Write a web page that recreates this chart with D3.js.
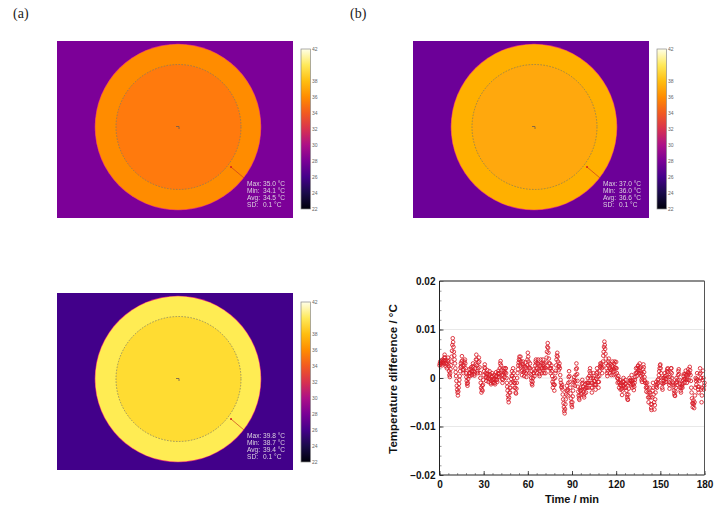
<!DOCTYPE html>
<html><head><meta charset="utf-8">
<script src="https://cdn.jsdelivr.net/npm/d3@7"></script>
<style>html,body{margin:0;padding:0;background:#fff}svg{display:block}</style>
</head><body><svg id="c" width="718" height="510"></svg>
<script>
// Temperature difference, in 0.001 °C, one reading every 0.25 min (rows of 5 min)
const diffMilli = [
2.6,3,3.4,2.8,3.2,3.6,3,2.6,3.4,3.8,3.2,3,3.6,4.2,4.8,4.2,3.6,3,2.4,3.2,
2,2.8,3.6,4.2,3.4,2.4,1.4,0.6,0.2,1,1.8,2.6,3.4,4.4,5.6,6.8,8.2,7.4,6.4,5.4,
4.6,3.8,3,2,1.2,0.4,-0.6,-1.6,-2.4,-3,-3.6,-2.8,-2,-1.2,-0.4,0.4,1.4,2.2,3,2.4,
3.4,4.5,3.6,2.6,1.6,1,1.8,2.6,3.4,3.8,3,2,1,0.2,-0.6,-1.2,-1.6,-1,-0.2,0.4,
1,1.8,1,0.4,1,1.8,2.2,1.4,0.6,1.4,2.4,3,2.2,1.4,0.8,0.5,1.2,2,2.8,3.8,
4.8,3.8,2.6,1.4,1,2,3.2,4.2,3.4,2.2,1,0,-1,-2,-3,-2.4,-1.6,-2.6,-1.4,-0.4,
0.6,1.4,2.2,2.8,2,1,0.2,-0.6,0,0.8,1.6,0.8,0,-0.8,-0.2,0.6,1.4,0.8,-0.2,-1,
-1.3,-0.6,0.2,1,0.4,-0.4,-1,-0.2,0.6,-0.2,-1,-1.3,-0.4,0.4,1.2,0.4,-0.4,-0.8,0.2,1,
1.5,0.8,0.2,1,2,3,3.5,2.6,1.6,0.6,-0.2,-1,-0.4,0.6,1.4,2,1,0.2,1.2,2,
2,1,0,-1,-1.8,-2.6,-3.6,-4.4,-5,-4,-3,-2,-3,-2,-1,-0.2,0.5,1.4,0.4,-0.8,
2,1,0,-1,-2,-1,-2,-3,-3.2,-2.2,-1,0,1,1.8,2.6,3.2,3.8,4.4,3.6,2.6,
4.4,3.4,2.4,1.4,0.6,1.6,2.8,3.4,2.4,1.2,0.4,1.4,2.4,3.2,2.2,1,0.2,1.4,2.6,3.8,
5.2,4.4,3.4,2.2,1,2,3,2,0.8,0,-0.6,-1.2,-1.5,-0.8,0,1,1.8,1,0.4,1.4,
2.6,3.4,3.8,3,2,1,2,3,3.8,2.8,1.8,0.8,0.4,1.4,2.6,3.8,3,2,1,2,
3,3.8,2.8,2,1,2,3,2.2,1,2,3.2,4.2,5.4,6.4,7.2,6.2,5.2,4,3,2,
3,2,1,2,2.6,1.4,0.4,-0.8,-2,-1.2,-0.2,-1.4,-2.6,-1.4,0,1,1.5,2.6,3.8,4.6,
5.2,4.4,3.4,2.4,1.6,2.4,3,2,0.6,-0.4,-1,-1.8,-2,-1.4,-2.4,-3.4,-4.4,-5.2,-6,-6.8,
-7.3,-6.4,-5.4,-4.4,-3.4,-2.6,-1.6,-2.6,-3.6,-2.4,-1,0.2,1.4,0.4,-0.8,-2,-3.2,-4.2,-5,-5.6,
-6,-5,-3.8,-2.6,-1.4,-0.4,0.2,-0.8,-1.6,-0.6,0.6,1.8,3,2,0.8,-0.6,-1.8,-2.8,-3.6,-4.2,
-4.5,-3.6,-2.6,-2,-2.6,-3.4,-2.4,-1.2,-0.4,-1,-1.8,-2.8,-3.6,-4,-3.2,-2.2,-1.2,-2,-3,-2,
-1,-2,-1,0,-1,-2,-1,0.4,1.4,2,1,0,-1,-2,-3,-2,-1,0,1,0.4,
-0.6,-1.4,-0.6,-1.4,-2.4,-1.4,-0.2,1,2,1.2,0.2,-0.8,-2,-0.8,0.4,1.4,2.4,3,2.2,2.6,
3,2,1,2.2,3.4,4.6,5.4,6.4,7.5,6.8,6,5,4,3,2,1,0.4,1.4,2.6,3.4,
4,3,2,1,1.8,2.8,1.6,0.6,1.6,2.6,3.4,2.4,1.4,0.6,1.8,3,3.4,2.2,0.8,2,
3.3,2,1,0,-1,-0.2,0.4,-0.8,-2,-1,-0.4,-1.4,-2.4,-1.6,-1,-2.2,-3.5,-2.6,-1.6,-0.8,
0,-0.8,-1.6,-2,-1.2,-0.4,-1.2,-2,-2.6,-3.4,-4,-4.4,-4.5,-3.4,-2.2,-1,0,-0.6,-1.2,-0.4,
-1.5,-0.6,0.6,-0.6,-2,-1.2,-0.4,-1.4,-2.5,-1.8,-1,-0.4,0.2,1,2,1,0.4,1.2,2,2.4,
2.6,1.6,1,2,3,2.2,1.4,1,0.4,-0.4,-0.8,0,0.8,1.8,2.8,2.2,1.2,0.2,-0.6,-1,
-1,-2,-2.8,-1.8,-1,-2,-3,-4,-5,-4,-3,-2,-3,-4,-5.4,-6.2,-6.6,-5.4,-4,-2.6,
-1,-2,-3.4,-5,-6.5,-5.6,-4.4,-3,-1.8,-0.8,-1.4,-2,-1.2,-0.4,-1,-0.2,0.6,1.4,2,2.6,
2.8,2,1,0,-1,-2,-2.4,-1.2,0,-0.6,-1,0,1,0.4,-0.2,-0.8,-0.2,0.6,1.4,1.8,
2,1.2,0.2,-0.8,-1.4,-2.2,-1,0.2,1.2,2,2,1,0,-0.8,-1.4,-1,-1.8,-2.6,-3.2,-3.6,
-3.7,-2.8,-2,-1,0,-0.8,-1.4,-0.4,0.6,1.4,1.8,0.8,-0.4,-1.2,-2,-2.6,-3,-2,-1.2,-1.6,
-2,-1.2,-0.4,0.4,0.8,-0.2,-1,-0.2,0.8,1.5,0.6,-0.4,-1,-0.2,0.6,1.2,1.8,0.8,-0.4,1,
2.3,1.6,0.6,-0.6,-2,-3,-4.2,-5.2,-6,-5.2,-4.6,-5.4,-6.2,-5,-3.6,-2,0,-0.6,-1.4,-0.2,
1,-0.4,-1.8,-2.4,-3,-1.8,-0.6,0.8,2,1,0,-2.4,-5,-3.6,-2,-0.4,1.5,0,-2.4,-1.6,
-1];
const stepMinutes = 0.25;
const xTickValues = [0,30,60,90,120,150,180];
const yTickValues = [0.02,0.01,0,-0.01,-0.02];
const yGridValues = [0.01,0,-0.01];

const panelLabels = ["(a)","(b)"];
const statNames = ["Max:","Min:","Avg:","SD:"];
const panel1Stats = ["35.0 °C","34.1 °C","34.5 °C","0.1 °C"];
const panel2Stats = ["37.0 °C","36.0 °C","36.6 °C","0.1 °C"];
const panel3Stats = ["39.8 °C","38.7 °C","39.4 °C","0.1 °C"];
const barTicks = [42,38,36,34,32,30,28,26,24,22];
const barStops = [22,24,26,28,30,32,34,36,38,40,42];
const barColors = ["#00000a","#1a0b4a","#45008a","#7a0096","#ad1087","#d8324f","#f25a20","#ff8c00","#ffbe10","#ffe95a","#ffffe8"];

const svg = d3.select("#c");
const defs = svg.append("defs");
defs.append("filter").attr("id","soft").append("feGaussianBlur").attr("stdDeviation",0.35);
defs.append("filter").attr("id","softer").append("feGaussianBlur").attr("stdDeviation",0.22);
const grad = defs.append("linearGradient").attr("id","bar")
  .attr("x1",0).attr("x2",0).attr("y1",1).attr("y2",0);
grad.selectAll("stop").data(barStops).join("stop")
  .attr("offset",d=>(d-22)/20).attr("stop-color",(d,i)=>barColors[i]);

svg.selectAll("text.pl").data(panelLabels).join("text").attr("class","pl")
  .attr("x",(d,i)=>i?350:13).attr("y",18)
  .attr("font-family","'Liberation Serif',serif").attr("font-size",14).attr("fill","#222").text(d=>d);

function thermal(px,py,stats,bg,disc,inner,barY){
  const g = svg.append("g").attr("transform",`translate(${px},${py})`);
  const W=236,H=177,cx=121,cy=86;
  const im = g.append("g").attr("filter","url(#soft)");
  im.append("rect").attr("width",W).attr("height",H).attr("fill",bg);
  im.append("circle").attr("cx",cx).attr("cy",cy).attr("r",83.3).attr("fill","#e0307a");
  im.append("circle").attr("cx",cx).attr("cy",cy).attr("r",82.7).attr("fill",disc);
  im.append("circle").attr("cx",cx+0.5).attr("cy",cy).attr("r",62.5).attr("fill",inner);
  g.append("circle").attr("cx",cx+0.5).attr("cy",cy).attr("r",62.5).attr("fill","none")
    .attr("stroke","#77776a").attr("stroke-width",0.7).attr("stroke-dasharray","1.6 1.4").attr("filter","url(#softer)");
  const mk = g.append("g").attr("filter","url(#softer)").attr("stroke","#6b5a50").attr("stroke-width",0.8).attr("fill","none");
  mk.append("path").attr("d",d3.line()([[cx-2,cy-0.5],[cx+1,cy-0.5],[cx+1,cy+2]]));
  g.append("line").attr("x1",187).attr("y1",137).attr("x2",174).attr("y2",126)
    .attr("stroke","#c83a20").attr("stroke-width",0.7).attr("filter","url(#softer)");
  g.append("circle").attr("cx",174).attr("cy",126).attr("r",1).attr("fill","#d81f20");
  const tx = g.append("g").attr("filter","url(#softer)");
  statNames.forEach((n,i)=>{
    const y=144.5+i*7.3;
    tx.append("text").attr("x",190).attr("y",y).attr("font-size",6.6).attr("fill","#ddd4e0")
      .attr("font-family","'Liberation Sans',sans-serif").text(n);
    tx.append("text").attr("x",206).attr("y",y).attr("font-size",6.6).attr("fill","#ddd4e0")
      .attr("font-family","'Liberation Sans',sans-serif").text(stats[i]);
  });
  const s = d3.scaleLinear().domain([22,42]).range([barY+160,barY]);
  const bx = px+244;
  svg.append("rect").attr("x",bx).attr("y",barY).attr("width",9.5).attr("height",160)
    .attr("fill","url(#bar)").attr("stroke","#8a8a8a").attr("stroke-width",0.7);
  svg.selectAll(null).data(barTicks).join("text").attr("x",bx+11).attr("y",d=>s(d)+1.7)
    .attr("font-size",5).attr("fill","#666").attr("font-family","'Liberation Sans',sans-serif").text(d=>d);
}
thermal(57,41,panel1Stats,"#7b0098","#ff8c00","#ff7a10",49);
thermal(413,41,panel2Stats,"#6c0098","#ffb000","#ffa808",49);
thermal(57,293,panel3Stats,"#43008a","#ffec52","#ffdc30",302);

const L=439.5,R=704.5,T=281,B=475;
const x = d3.scaleLinear().domain([0,180]).range([L,R]);
const y = d3.scaleLinear().domain([-0.02,0.02]).range([B,T]);
const font = "'Liberation Sans',Arial,sans-serif";

svg.selectAll("line.grid").data(yGridValues).join("line").attr("class","grid")
  .attr("x1",L).attr("x2",R).attr("y1",d=>y(d)).attr("y2",d=>y(d))
  .attr("stroke","#e2e2e2").attr("stroke-width",0.8);

svg.append("g").attr("filter","url(#softer)").selectAll("circle").data(diffMilli).join("circle")
  .attr("cx",(d,i)=>x(i*stepMinutes)).attr("cy",d=>y(d/1000)).attr("r",1.8)
  .attr("fill","none").attr("stroke","#d81c28").attr("stroke-width",0.85);

const xMinor = d3.axisBottom(x).tickValues(d3.range(0,181,6)).tickSize(-2).tickFormat("");
const yMinor = d3.axisLeft(y).tickValues(d3.range(-20,21,2).map(d=>d/1000)).tickSize(-2).tickFormat("");
for (const [ax,tr] of [[xMinor,`translate(0,${B})`],[yMinor,`translate(${L},0)`]]) {
  const g = svg.append("g").attr("transform",tr).call(ax);
  g.select(".domain").remove();
  g.selectAll("line").attr("stroke","#555").attr("stroke-width",0.6);
}
const gx = svg.append("g").attr("transform",`translate(0,${B})`)
  .call(d3.axisBottom(x).tickValues(xTickValues).tickSize(-4).tickPadding(6).tickFormat(d3.format("d")));
const gy = svg.append("g").attr("transform",`translate(${L},0)`)
  .call(d3.axisLeft(y).tickValues(yTickValues).tickSize(-4).tickPadding(4)
    .tickFormat(d=>d===0?"0":d3.format(".2f")(d)));
for (const g of [gx,gy]) {
  g.select(".domain").remove();
  g.selectAll("line").attr("stroke","#222").attr("stroke-width",0.8);
  g.selectAll("text").attr("font-family",font).attr("font-weight","bold").attr("font-size",10).attr("fill","#111");
}
svg.append("line").attr("x1",L).attr("x2",R).attr("y1",T).attr("y2",T).attr("stroke","#666").attr("stroke-width",1.6);
svg.append("line").attr("x1",R).attr("x2",R).attr("y1",T).attr("y2",B).attr("stroke","#555").attr("stroke-width",1);
svg.append("line").attr("x1",L).attr("x2",L).attr("y1",T).attr("y2",B).attr("stroke","#222").attr("stroke-width",1);
svg.append("line").attr("x1",L).attr("x2",R).attr("y1",B).attr("y2",B).attr("stroke","#222").attr("stroke-width",1);

svg.append("text").attr("x",572).attr("y",503).attr("text-anchor","middle")
  .attr("font-family",font).attr("font-weight","bold").attr("font-size",11).attr("fill","#111").text("Time / min");
svg.append("text").attr("transform","translate(397,379) rotate(-90)").attr("text-anchor","middle")
  .attr("font-family",font).attr("font-weight","bold").attr("font-size",11.5).attr("fill","#111").text("Temperature difference / °C");
</script></body></html>
